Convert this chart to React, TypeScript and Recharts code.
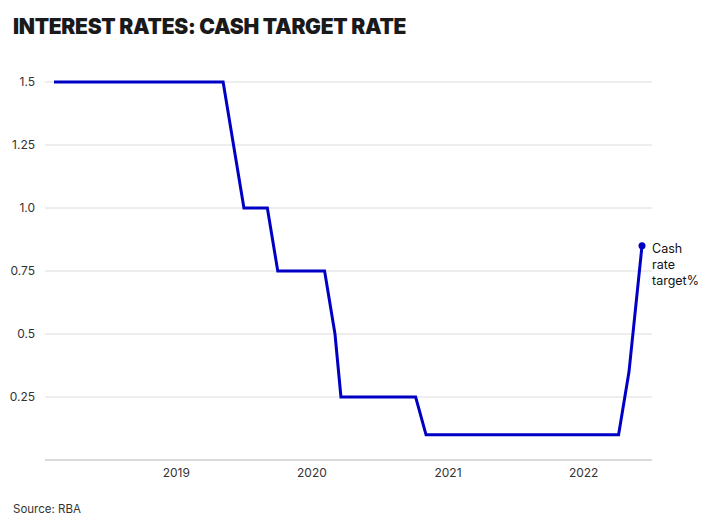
import { CartesianGrid, Line, LineChart, XAxis, YAxis } from "recharts";

// RBA board meeting dates and the cash rate target set at each
const meetingDates = [
  "2018-02-06", "2018-03-06", "2018-04-03", "2018-05-01", "2018-06-05", "2018-07-03",
  "2018-08-07", "2018-09-04", "2018-10-02", "2018-11-06", "2018-12-04",
  "2019-02-05", "2019-03-05", "2019-04-02", "2019-05-07", "2019-06-04", "2019-07-02",
  "2019-08-06", "2019-09-03", "2019-10-01", "2019-11-05", "2019-12-03",
  "2020-02-04", "2020-03-03", "2020-03-19", "2020-04-07", "2020-05-05", "2020-06-02",
  "2020-07-07", "2020-08-04", "2020-09-01", "2020-10-06", "2020-11-03", "2020-12-01",
  "2021-02-02", "2021-03-02", "2021-04-06", "2021-05-04", "2021-06-01", "2021-07-06",
  "2021-08-03", "2021-09-07", "2021-10-05", "2021-11-02", "2021-12-07",
  "2022-02-01", "2022-03-01", "2022-04-05", "2022-05-03", "2022-06-07",
];

const cashRate = [
  1.5, 1.5, 1.5, 1.5, 1.5, 1.5,
  1.5, 1.5, 1.5, 1.5, 1.5,
  1.5, 1.5, 1.5, 1.5, 1.25, 1.0,
  1.0, 1.0, 0.75, 0.75, 0.75,
  0.75, 0.5, 0.25, 0.25, 0.25, 0.25,
  0.25, 0.25, 0.25, 0.25, 0.1, 0.1,
  0.1, 0.1, 0.1, 0.1, 0.1, 0.1,
  0.1, 0.1, 0.1, 0.1, 0.1,
  0.1, 0.1, 0.1, 0.35, 0.85,
];

const yearTicks = [2019, 2020, 2021, 2022];
const rateTicks = [0.25, 0.5, 0.75, 1.0, 1.25, 1.5];
const rateLabels = ["0.25", "0.5", "0.75", "1.0", "1.25", "1.5"];
const seriesLabel = ["Cash", "rate", "target%"];

const data = meetingDates.map((d, i) => ({
  date: Date.parse(d + "T00:00:00Z"),
  rate: cashRate[i],
}));

const FONT = "Inter, 'Noto Sans', sans-serif";
const LINE_COLOR = "#0000c4";

function EndDot(props: any) {
  const { cx, cy, index } = props;
  if (index !== data.length - 1) return <g key={`dot-${index}`} />;
  return (
    <g key={`dot-${index}`}>
      <circle cx={cx} cy={cy} r={3.5} fill={LINE_COLOR} />
      <text x={cx + 10} y={cy + 7.5} fontSize={12.5} fill="#111" fontFamily={FONT}>
        {seriesLabel.map((s, i) => (
          <tspan key={s} x={cx + 10} dy={i === 0 ? 0 : 16}>
            {s}
          </tspan>
        ))}
      </text>
    </g>
  );
}

export default function App() {
  return (
    <div
      style={{
        position: "absolute",
        left: 0,
        top: 0,
        width: 708,
        height: 528,
        background: "#fff",
        fontFamily: FONT,
      }}
    >
      <div
        style={{
          position: "absolute",
          left: 13,
          top: 14,
          fontSize: 21,
          fontWeight: 900,
          color: "#1a1a1a",
          letterSpacing: -0.3,
          whiteSpace: "nowrap",
        }}
      >
        INTEREST RATES: CASH TARGET RATE
      </div>
      <LineChart
        width={708}
        height={528}
        data={data}
        margin={{ top: 82, right: 56, left: 0, bottom: 38 }}
      >
        <CartesianGrid vertical={false} stroke="#dcdcdc" />
        <XAxis
          dataKey="date"
          type="number"
          scale="time"
          domain={["dataMin", "dataMax"]}
          padding={{ left: 9, right: 10 }}
          ticks={yearTicks.map((y) => Date.UTC(y, 0, 1))}
          tickFormatter={(v: number) => String(new Date(v).getUTCFullYear())}
          tick={{ fill: "#333", fontSize: 12, fontFamily: FONT }}
          tickLine={false}
          axisLine={{ stroke: "#c8c8c8" }}
          height={30}
        />
        <YAxis
          type="number"
          domain={[0, 1.5]}
          ticks={rateTicks}
          tickFormatter={(v: number) => rateLabels[rateTicks.indexOf(v)] ?? String(v)}
          tick={{ fill: "#333", fontSize: 12, fontFamily: FONT }}
          tickLine={false}
          axisLine={false}
          width={45}
          tickMargin={4}
        />
        <Line
          type="linear"
          dataKey="rate"
          stroke={LINE_COLOR}
          strokeWidth={3}
          dot={EndDot}
          activeDot={false}
          isAnimationActive={false}
        />
      </LineChart>
      <div
        style={{
          position: "absolute",
          left: 13,
          top: 502,
          fontSize: 11.5,
          color: "#333",
        }}
      >
        Source: RBA
      </div>
    </div>
  );
}
